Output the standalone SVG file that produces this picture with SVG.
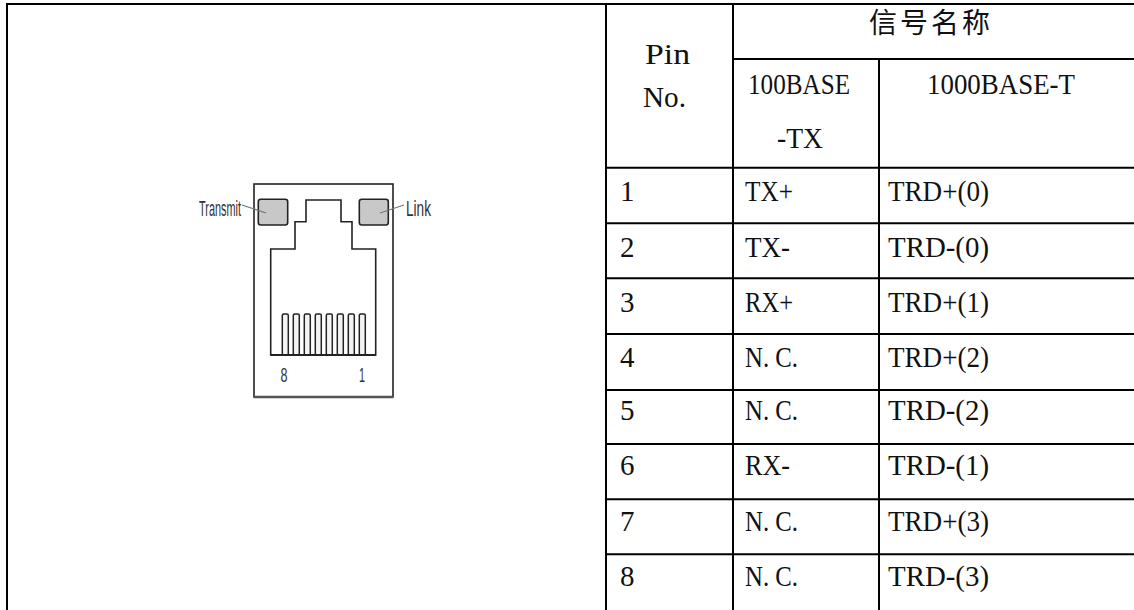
<svg xmlns="http://www.w3.org/2000/svg" width="1134" height="610" viewBox="0 0 1134 610">
<style>
.t{font-family:"Liberation Serif","Noto Sans CJK SC",serif;font-size:29px;fill:#111}
.cjk{font-family:"Noto Sans CJK SC","Liberation Serif",sans-serif;font-size:28px;fill:#111}
.g{stroke:#000;stroke-width:2;fill:none}
.jk{stroke:#222;stroke-width:1.6;fill:none}
.led{fill:#c8c8c8;stroke:#222;stroke-width:1.6}
.pin{fill:#f4f4f4;stroke:#222;stroke-width:1.5}
.lab{font-family:"Liberation Sans",Arial,sans-serif;font-size:22px;fill:#333}
.num{font-family:"Liberation Sans",Arial,sans-serif;font-size:20px;fill:#333}
.lead{stroke:#777;stroke-width:1.3;fill:none}
</style>
<rect width="1134" height="610" fill="#fff"/>
<g id="grid" class="g">
<line x1="7" y1="4" x2="1134" y2="4"/>
<line x1="7" y1="3" x2="7" y2="610"/>
<line x1="606" y1="4" x2="606" y2="610"/>
<line x1="733" y1="4" x2="733" y2="610"/>
<line x1="879" y1="59" x2="879" y2="610"/>
<line x1="733" y1="59" x2="1134" y2="59"/>
<line x1="606" y1="167.7" x2="1134" y2="167.7"/>
<line x1="606" y1="223.3" x2="1134" y2="223.3"/>
<line x1="606" y1="278.3" x2="1134" y2="278.3"/>
<line x1="606" y1="334" x2="1134" y2="334"/>
<line x1="606" y1="390" x2="1134" y2="390"/>
<line x1="606" y1="444" x2="1134" y2="444"/>
<line x1="606" y1="499.3" x2="1134" y2="499.3"/>
<line x1="606" y1="554.3" x2="1134" y2="554.3"/>
</g>
<g id="jack">
<rect x="254" y="184" width="139" height="213" class="jk"/>
<line x1="254" y1="397" x2="393" y2="397" stroke="#555" stroke-width="2.4"/>
<rect x="258.3" y="199.3" width="29.4" height="25.7" rx="2.5" class="led"/>
<rect x="359.3" y="199.3" width="29" height="25.7" rx="2.5" class="led"/>
<path class="jk" d="M270.7 355 V249 H295 V221.7 H306 V200 H341 V221.7 H352 V249 H375.7 V355 Z"/>
<g id="pins">
<rect x="282.3" y="314" width="6" height="41" rx="1.5" class="pin"/>
<rect x="293.3" y="314" width="6" height="41" rx="1.5" class="pin"/>
<rect x="304.3" y="314" width="6" height="41" rx="1.5" class="pin"/>
<rect x="315.3" y="314" width="6" height="41" rx="1.5" class="pin"/>
<rect x="326.3" y="314" width="6" height="41" rx="1.5" class="pin"/>
<rect x="337.3" y="314" width="6" height="41" rx="1.5" class="pin"/>
<rect x="348.3" y="314" width="6" height="41" rx="1.5" class="pin"/>
<rect x="359.3" y="314" width="6" height="41" rx="1.5" class="pin"/>
</g>
<line x1="270.7" y1="355" x2="375.7" y2="355" stroke="#222" stroke-width="1.8"/>
<text class="num" x="284" y="382" text-anchor="middle" textLength="7" lengthAdjust="spacingAndGlyphs">8</text>
<text class="num" x="362" y="382" text-anchor="middle" textLength="6" lengthAdjust="spacingAndGlyphs">1</text>
<line class="lead" x1="242" y1="205" x2="266" y2="213"/>
<line class="lead" x1="380" y1="213" x2="404" y2="205"/>
<text class="lab" x="199" y="216" textLength="42" lengthAdjust="spacingAndGlyphs">Transmit</text>
<text class="lab" x="406" y="216" textLength="25" lengthAdjust="spacingAndGlyphs">Link</text>
</g>
<g id="header">
<text class="cjk" x="869" y="33" textLength="121" lengthAdjust="spacing">信号名称</text>
<text class="t" x="645" y="64" textLength="45" lengthAdjust="spacingAndGlyphs">Pin</text>
<text class="t" x="643" y="107" textLength="43" lengthAdjust="spacingAndGlyphs">No.</text>
<text class="t" x="748" y="94" textLength="102" lengthAdjust="spacingAndGlyphs">100BASE</text>
<text class="t" x="777" y="148" textLength="46" lengthAdjust="spacingAndGlyphs">-TX</text>
<text class="t" x="927" y="94" textLength="148" lengthAdjust="spacingAndGlyphs">1000BASE-T</text>
</g>
<g id="rows">
<g id="r1"><text class="t" x="620" y="201">1</text><text class="t" x="745" y="201" textLength="48" lengthAdjust="spacingAndGlyphs">TX+</text><text class="t" x="888" y="201" textLength="101" lengthAdjust="spacingAndGlyphs">TRD+(0)</text></g>
<g id="r2"><text class="t" x="620" y="257">2</text><text class="t" x="745" y="257" textLength="45" lengthAdjust="spacingAndGlyphs">TX-</text><text class="t" x="888" y="257" textLength="101" lengthAdjust="spacingAndGlyphs">TRD-(0)</text></g>
<g id="r3"><text class="t" x="620" y="312">3</text><text class="t" x="745" y="312" textLength="48" lengthAdjust="spacingAndGlyphs">RX+</text><text class="t" x="888" y="312" textLength="101" lengthAdjust="spacingAndGlyphs">TRD+(1)</text></g>
<g id="r4"><text class="t" x="620" y="367">4</text><text class="t" x="745" y="367" textLength="53" lengthAdjust="spacingAndGlyphs">N. C.</text><text class="t" x="888" y="367" textLength="101" lengthAdjust="spacingAndGlyphs">TRD+(2)</text></g>
<g id="r5"><text class="t" x="620" y="420">5</text><text class="t" x="745" y="420" textLength="53" lengthAdjust="spacingAndGlyphs">N. C.</text><text class="t" x="888" y="420" textLength="101" lengthAdjust="spacingAndGlyphs">TRD-(2)</text></g>
<g id="r6"><text class="t" x="620" y="475">6</text><text class="t" x="745" y="475" textLength="45" lengthAdjust="spacingAndGlyphs">RX-</text><text class="t" x="888" y="475" textLength="101" lengthAdjust="spacingAndGlyphs">TRD-(1)</text></g>
<g id="r7"><text class="t" x="620" y="531">7</text><text class="t" x="745" y="531" textLength="53" lengthAdjust="spacingAndGlyphs">N. C.</text><text class="t" x="888" y="531" textLength="101" lengthAdjust="spacingAndGlyphs">TRD+(3)</text></g>
<g id="r8"><text class="t" x="620" y="586">8</text><text class="t" x="745" y="586" textLength="53" lengthAdjust="spacingAndGlyphs">N. C.</text><text class="t" x="888" y="586" textLength="101" lengthAdjust="spacingAndGlyphs">TRD-(3)</text></g>
</g>
</svg>
